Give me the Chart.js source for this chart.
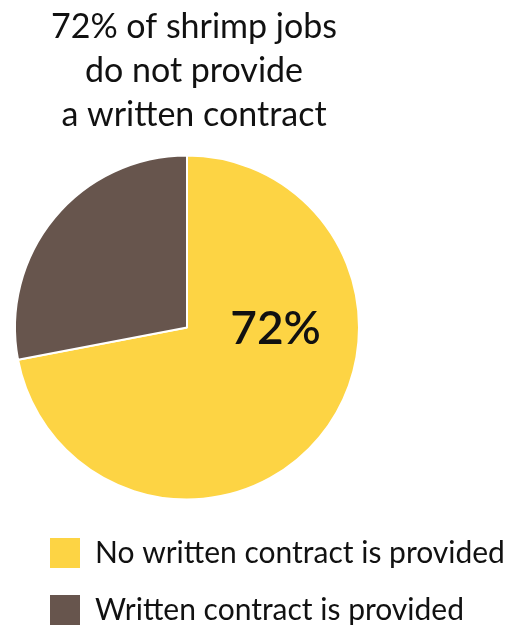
<!DOCTYPE html>
<html>
<head>
<meta charset="utf-8">
<script src="https://cdn.jsdelivr.net/npm/chart.js@4.4.1/dist/chart.umd.min.js"></script>
<style>
  html, body { margin: 0; padding: 0; background: #fff; }
  #wrap { width: 511px; height: 628px; position: relative; }
</style>
</head>
<body>
<div id="wrap"><canvas id="contractChart"></canvas></div>
<script>
// Datos del gráfico
const categories = ['No written contract is provided', 'Written contract is provided'];
const shares = [72, 28];
const sliceColors = ['#FDD444', '#67554D'];
const titleLines = ['72% of shrimp jobs', 'do not provide', 'a written contract'];

// Etiqueta grande dentro de la porción amarilla
const bigLabel = {
    id: 'bigLabel',
    afterDatasetsDraw(chart) {
        const arc = chart.getDatasetMeta(0).data[0];
        const ctx = chart.ctx;
        ctx.save();
        ctx.font = '600 46px Lato';
        ctx.fillStyle = '#111';
        ctx.textAlign = 'center';
        ctx.textBaseline = 'middle';
        ctx.fillText(shares[0] + '%', arc.x + arc.outerRadius * 0.515, arc.y + 2);
        ctx.restore();
    }
};

// Mover título y leyenda un poco a la derecha (el pastel queda donde está)
const nudge = {
    id: 'nudge',
    afterLayout(chart) {
        chart.legend.left += 9;
        chart.legend.right = chart.width;
        chart.titleBlock.left += 7;
        chart.titleBlock.right += 7;
    }
};

function createContractChart() {
    const ctx = document.getElementById('contractChart').getContext('2d');
    return new Chart(ctx, {
        type: 'pie',
        data: {
            labels: categories,
            datasets: [{
                data: shares,
                backgroundColor: sliceColors,
                borderColor: '#fff',
                borderWidth: 2
            }]
        },
        options: {
            responsive: true,
            maintainAspectRatio: false,
            animation: false,
            layout: { padding: { left: 14, right: 151, top: 0, bottom: 0 } },
            plugins: {
                tooltip: { enabled: false },
                title: {
                    display: true,
                    text: titleLines,
                    color: '#111',
                    font: { family: 'Lato', size: 34, weight: 'normal', lineHeight: 1.2941 },
                    padding: { top: 5, bottom: 7 }
                },
                legend: {
                    position: 'bottom',
                    align: 'start',
                    maxHeight: 117,
                    labels: {
                        boxWidth: 30,
                        boxHeight: 30,
                        padding: 27,
                        color: '#111',
                        font: { family: 'Lato', size: 30 },
                        generateLabels: chart =>
                            Chart.overrides.pie.plugins.legend.labels.generateLabels(chart)
                                .map(item => ({ ...item, lineWidth: 0 }))
                    }
                }
            }
        },
        plugins: [bigLabel, nudge]
    });
}

createContractChart();
</script>
</body>
</html>
